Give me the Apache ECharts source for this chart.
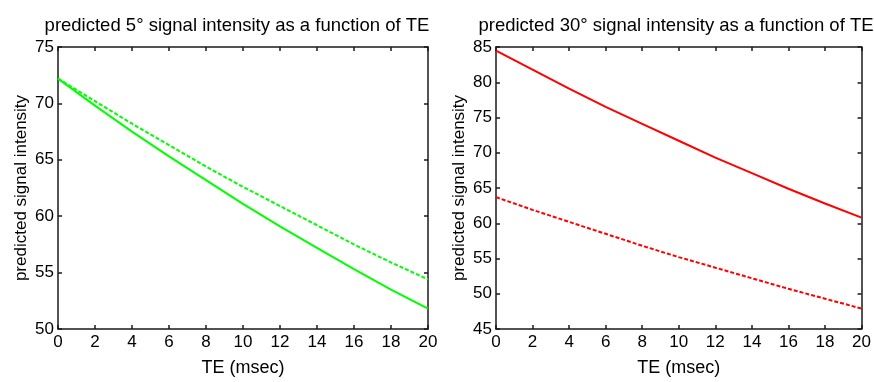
<!DOCTYPE html>
<html>
<head>
<meta charset="utf-8">
<script src="https://cdn.jsdelivr.net/npm/echarts@6/dist/echarts.min.js"></script>
<style>
html,body{margin:0;padding:0;background:#fff;}
#c{width:874px;height:382px;}
</style>
</head>
<body>
<div id="c"></div>
<script>
// ---- data ----
var te = [0, 2, 4, 6, 8, 10, 12, 14, 16, 18, 20];
var fa5Solid  = [72.2, 69.8, 67.5, 65.3, 63.2, 61.1, 59.1, 57.2, 55.3, 53.5, 51.8];
var fa5Dashed = [72.2, 70.2, 68.2, 66.3, 64.4, 62.6, 60.9, 59.2, 57.5, 55.9, 54.4];
var fa30Solid  = [84.5, 81.8, 79.1, 76.5, 74.1, 71.7, 69.3, 67.1, 64.9, 62.8, 60.8];
var fa30Dashed = [63.7, 61.9, 60.2, 58.5, 56.8, 55.2, 53.7, 52.2, 50.7, 49.3, 47.9];
var titles = ['predicted 5\u00b0 signal intensity as a function of TE', 'predicted 30\u00b0 signal intensity as a function of TE'];
var xName = 'TE (msec)';
var yName = 'predicted signal intensity';

function pairs(xs, ys){ return xs.map(function(x,i){ return [x, ys[i]]; }); }

var FONT = '"Liberation Sans", Arial, sans-serif';
var AX = {color:'#1a1a1a', width:1.5};

function mkX(gi, pos, showLabel){
  return {
    type:'value', gridIndex:gi, position:pos, min:0, max:20, interval:2,
    axisLine:{show:true, onZero:false, lineStyle:AX},
    axisTick:{show:true, inside:true, length:4, lineStyle:AX},
    axisLabel:{show:showLabel, color:'#000', fontSize:17, fontFamily:FONT, margin:5},
    splitLine:{show:false},
    name: showLabel ? xName : '', nameLocation:'middle', nameGap:30,
    nameTextStyle:{color:'#000', fontSize:18, fontFamily:FONT}
  };
}
function mkY(gi, pos, showLabel, min, max){
  return {
    type:'value', gridIndex:gi, position:pos, min:min, max:max, interval:5,
    axisLine:{show:true, onZero:false, lineStyle:AX},
    axisTick:{show:true, inside:true, length:4, lineStyle:AX},
    axisLabel:{show:showLabel, color:'#000', fontSize:17, fontFamily:FONT, margin:4},
    splitLine:{show:false},
    name: showLabel ? yName : '', nameLocation:'middle', nameGap:28, nameRotate:90,
    nameTextStyle:{color:'#000', fontSize:17, fontFamily:FONT}
  };
}

var chart = echarts.init(document.getElementById('c'), null, {renderer:'canvas'});
chart.setOption({
  backgroundColor:'#fff',
  animation:false,
  title:[
    {text:titles[0], left:232, top:11, textAlign:'center', textStyle:{color:'#000', fontSize:18.5, fontWeight:'normal', fontFamily:FONT}},
    {text:titles[1], left:671, top:11, textAlign:'center', textStyle:{color:'#000', fontSize:18.5, fontWeight:'normal', fontFamily:FONT}}
  ],
  grid:[
    {left:58, top:47, width:370, height:291},
    {left:496, top:47, width:370, height:291}
  ],
  xAxis:[ mkX(0,'bottom',true), mkX(0,'top',false), mkX(1,'bottom',true), mkX(1,'top',false) ],
  yAxis:[ mkY(0,'left',true,50,75), mkY(0,'right',false,50,75), mkY(1,'left',true,45,85), mkY(1,'right',false,45,85) ],
  series:[
    {type:'line', xAxisIndex:0, yAxisIndex:0, data:pairs(te, fa5Solid), showSymbol:false, lineStyle:{color:'#00ff00', width:2}},
    {type:'line', xAxisIndex:0, yAxisIndex:0, data:pairs(te, fa5Dashed), showSymbol:false, lineStyle:{color:'#00ff00', width:2, type:[4,2]}},
    {type:'line', xAxisIndex:2, yAxisIndex:2, data:pairs(te, fa30Solid), showSymbol:false, lineStyle:{color:'#ff0000', width:2}},
    {type:'line', xAxisIndex:2, yAxisIndex:2, data:pairs(te, fa30Dashed), showSymbol:false, lineStyle:{color:'#ff0000', width:2, type:[4,2]}}
  ]
});
</script>
</body>
</html>
